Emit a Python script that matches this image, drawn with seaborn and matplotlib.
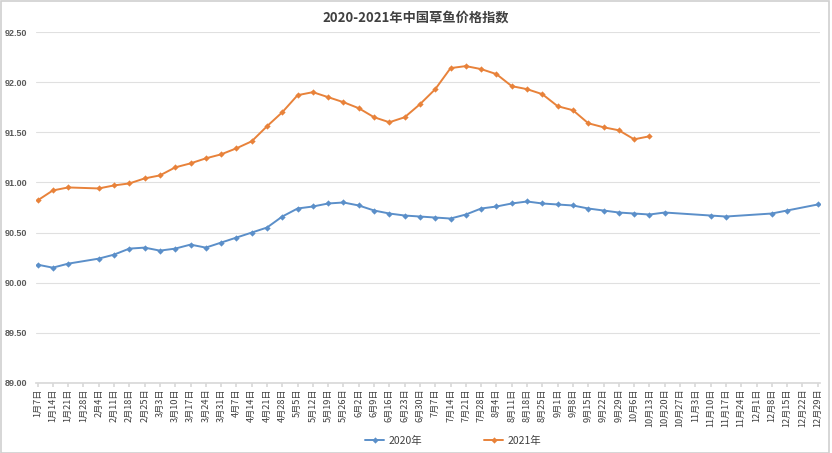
import numpy as np
import pandas as pd
import matplotlib
matplotlib.use("Agg")
import matplotlib.pyplot as plt
import seaborn as sns
from matplotlib.lines import Line2D
from matplotlib.patches import Rectangle

title = "2020-2021年中国草鱼价格指数"
dates = ["1月7日", "1月14日", "1月21日", "1月28日", "2月4日", "2月11日", "2月18日", "2月25日",
         "3月3日", "3月10日", "3月17日", "3月24日", "3月31日", "4月7日", "4月14日", "4月21日",
         "4月28日", "5月5日", "5月12日", "5月19日", "5月26日", "6月2日", "6月9日", "6月16日",
         "6月23日", "6月30日", "7月7日", "7月14日", "7月21日", "7月28日", "8月4日", "8月11日",
         "8月18日", "8月25日", "9月1日", "9月8日", "9月15日", "9月22日", "9月29日", "10月6日",
         "10月13日", "10月20日", "10月27日", "11月3日", "11月10日", "11月17日", "11月24日",
         "12月1日", "12月8日", "12月15日", "12月22日", "12月29日"]
N = None
values_2020 = [90.18, 90.15, 90.19, N, 90.24, 90.28, 90.34, 90.35, 90.32, 90.34, 90.38, 90.35,
               90.40, 90.45, 90.50, 90.55, 90.66, 90.74, 90.76, 90.79, 90.80, 90.77, 90.72,
               90.69, 90.67, 90.66, 90.65, 90.64, 90.68, 90.74, 90.76, 90.79, 90.81, 90.79,
               90.78, 90.77, 90.74, 90.72, 90.70, 90.69, 90.68, 90.70, N, N, 90.67, 90.66,
               N, N, 90.69, 90.72, N, 90.78]
values_2021 = [90.82, 90.92, 90.95, N, 90.94, 90.97, 90.99, 91.04, 91.07, 91.15, 91.19, 91.24,
               91.28, 91.34, 91.41, 91.56, 91.70, 91.87, 91.90, 91.85, 91.80, 91.74, 91.65,
               91.60, 91.65, 91.78, 91.93, 92.14, 92.16, 92.13, 92.08, 91.96, 91.93, 91.88,
               91.76, 91.72, 91.59, 91.55, 91.52, 91.43, 91.46] + [N] * 11
series_names = ["2020年", "2021年"]
colors = ["#5B8FC9", "#E8823A"]
yticks = [89.0, 89.5, 90.0, 90.5, 91.0, 91.5, 92.0, 92.5]

sns.set_theme(style="white")
plt.rcParams["font.family"] = ["Noto Sans CJK SC", "DejaVu Sans"]

rows = []
for name, vals in zip(series_names, [values_2020, values_2021]):
    for i, v in enumerate(vals):
        if v is not None:
            rows.append({"idx": i, "value": v, "series": name})
df = pd.DataFrame(rows)

fig = plt.figure(figsize=(8.32, 4.53), dpi=100)
ax = fig.add_axes([36 / 832, 1 - 383 / 453, (820 - 36) / 832, (383 - 32) / 453])

sns.lineplot(data=df, x="idx", y="value", hue="series", palette=colors,
             marker="D", markersize=3.2, markeredgewidth=0, linewidth=1.4,
             ax=ax, legend=False)

ax.set_xlim(-0.1, 51.15)
ax.set_ylim(89, 92.5)
ax.set_yticks(yticks)
ax.set_yticklabels([f"{t:.2f}" for t in yticks], fontsize=6.5, color="#595959",
                   fontweight="bold", family=["Liberation Sans"])
ax.set_xticks(range(len(dates)))
ax.set_xticklabels(dates, rotation=90, fontsize=6.6, color="#404040")
ax.tick_params(axis="y", length=0, pad=6.5)
ax.tick_params(axis="x", length=3, pad=1, color="#d9d9d9", direction="out", bottom=True)
ax.grid(axis="y", color="#e0e0e0", linewidth=0.8)
ax.grid(axis="x", visible=False)
for s in ["top", "right", "left"]:
    ax.spines[s].set_visible(False)
ax.spines["bottom"].set_color("#d9d9d9")
ax.set_xlabel("")
ax.set_ylabel("")

fig.text(0.5, 1 - 18 / 453, title, ha="center", va="center", fontsize=9.5,
         fontweight="bold", color="#404040")

handles = [Line2D([0], [0], color=c, marker="D", markersize=3.2, markeredgewidth=0, linewidth=1.4)
           for c in colors]
fig.legend(handles, series_names, loc="center", bbox_to_anchor=(453 / 832, 1 - 441 / 453),
           ncol=2, frameon=False, fontsize=7.5, columnspacing=6, handlelength=1.8,
           handletextpad=0.4, labelcolor="#404040")

fig.patches.append(Rectangle((0.001, 0.001), 828 / 832, 0.996, transform=fig.transFigure,
                             fill=False, edgecolor="#d0d0d0", linewidth=1.2))

fig.savefig("out.png", dpi=100, facecolor="white")
